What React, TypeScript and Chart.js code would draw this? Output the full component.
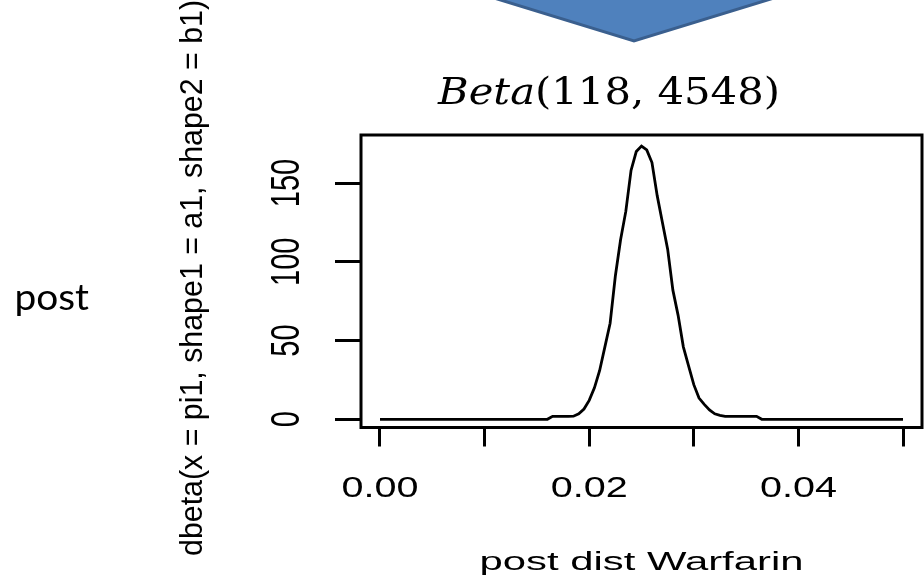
import React, { useEffect, useRef } from 'react';
import { Chart, registerables } from 'chart.js';

Chart.register(...registerables);

// ---- data ----
const pi1 = [
  0, 0.016, 0.0165, 0.017, 0.0175, 0.018, 0.0185, 0.019, 0.0195, 0.02,
  0.0205, 0.021, 0.0215, 0.022, 0.0225, 0.023, 0.0235, 0.024, 0.0245, 0.025,
  0.0255, 0.026, 0.0265, 0.027, 0.0275, 0.028, 0.0285, 0.029, 0.0295, 0.03,
  0.0305, 0.031, 0.0315, 0.032, 0.0325, 0.033, 0.0335, 0.034, 0.0345, 0.035,
  0.0355, 0.036, 0.0365, 0.05,
];
const density = [
  0, 0, 1.9, 1.9, 1.9, 1.9, 2.0, 3.5, 6.5, 12,
  20, 31, 46, 61, 91, 114, 132, 158, 170, 173.5,
  171, 163, 142, 125, 108, 82, 66, 46, 34, 22,
  13.5, 9.5, 6, 3.5, 2.5, 1.9, 1.9, 1.9, 1.9, 1.9,
  1.9, 1.9, 0, 0,
];
const xTickValues = [0, 0.01, 0.02, 0.03, 0.04, 0.05];
const xTickLabels = ['0.00', '', '0.02', '', '0.04', ''];
const yTickValues = [0, 50, 100, 150];
const yTickLabels = ['0', '50', '100', '150'];
const titleItalic = 'Beta';
const titleRest = '(118, 4548)';
const xTitle = 'post dist Warfarin';
const yTitle = 'dbeta(x = pi1, shape1 = a1, shape2 = b1)';
const sideLabel = 'post';

type TextOpts = {
  font: string;
  rot?: number;
  sx?: number;
  sy?: number;
  width?: number;
  align?: CanvasTextAlign;
  baseline?: CanvasTextBaseline;
  color?: string;
};

function drawText(ctx: CanvasRenderingContext2D, text: string, x: number, y: number, o: TextOpts) {
  ctx.save();
  ctx.translate(x, y);
  if (o.rot) ctx.rotate(o.rot);
  ctx.font = o.font;
  let sx = o.sx ?? 1;
  if (o.width) sx = o.width / ctx.measureText(text).width;
  ctx.scale(sx, o.sy ?? 1);
  ctx.textAlign = o.align ?? 'center';
  ctx.textBaseline = o.baseline ?? 'alphabetic';
  ctx.fillStyle = o.color ?? '#000';
  ctx.fillText(text, 0, 0);
  ctx.restore();
}

const decorPlugin = {
  id: 'decor',
  beforeDraw(chart: any) {
    const ctx: CanvasRenderingContext2D = chart.ctx;
    // slide arrow (decoration above the chart)
    ctx.save();
    ctx.beginPath();
    ctx.moveTo(468, -10);
    ctx.lineTo(634, 41);
    ctx.lineTo(800, -10);
    ctx.closePath();
    ctx.fillStyle = '#4F81BD';
    ctx.fill();
    ctx.lineWidth = 3;
    ctx.strokeStyle = '#3A5F8E';
    ctx.lineJoin = 'miter';
    ctx.stroke();
    ctx.restore();
  },
  afterDraw(chart: any) {
    const ctx: CanvasRenderingContext2D = chart.ctx;
    const a = chart.chartArea;
    const xs = chart.scales.x;
    const ys = chart.scales.y;
    // box
    ctx.save();
    ctx.strokeStyle = '#000';
    ctx.lineWidth = 3;
    ctx.strokeRect(a.left, a.top, a.right - a.left, a.bottom - a.top);
    ctx.restore();

    // x tick labels
    xTickValues.forEach((v, i) => {
      const t = xTickLabels[i];
      if (!t) return;
      drawText(ctx, t, xs.getPixelForValue(v), a.bottom + 69.5, {
        font: '29px "Liberation Sans", Arial, sans-serif',
        width: 77,
      });
    });
    // y tick labels (rotated, parallel to axis)
    yTickValues.forEach((v, i) => {
      drawText(ctx, yTickLabels[i], a.left - 62, ys.getPixelForValue(v), {
        font: '29px "Liberation Sans", Arial, sans-serif',
        rot: -Math.PI / 2,
        sy: 1.37,
      });
    });
    // axis titles
    drawText(ctx, xTitle, (xs.getPixelForValue(0) + xs.getPixelForValue(0.05)) / 2, a.bottom + 142.5, {
      font: '26px "Liberation Sans", Arial, sans-serif',
      width: 324,
    });
    drawText(ctx, yTitle, a.left - 159, 278, {
      font: '29px "Liberation Sans", Arial, sans-serif',
      rot: -Math.PI / 2,
      sy: 1.1,
      width: 556,
    });

    // title: Beta(118, 4548)
    ctx.save();
    const fi = 'italic 37px "DejaVu Serif", serif';
    const fn = '37px "DejaVu Serif", serif';
    ctx.font = fi;
    const w1 = ctx.measureText(titleItalic).width;
    ctx.font = fn;
    const w2 = ctx.measureText(titleRest).width;
    const target = 342;
    const sx = target / (w1 + w2);
    ctx.translate(609 - target / 2, 104);
    ctx.scale(sx, 1);
    ctx.fillStyle = '#000';
    ctx.textBaseline = 'alphabetic';
    ctx.textAlign = 'left';
    ctx.font = fi;
    ctx.fillText(titleItalic, 0, 0);
    ctx.font = fn;
    ctx.fillText(titleRest, w1, 0);
    ctx.restore();

    // side label
    drawText(ctx, sideLabel, 89, 310, {
      font: '37px Lato, "Open Sans", sans-serif',
      align: 'right',
      sx: 1.05,
    });
  },
};

export default function App() {
  const ref = useRef<HTMLCanvasElement>(null);
  useEffect(() => {
    if (!ref.current) return;
    const chart = new Chart(ref.current, {
      type: 'scatter',
      data: {
        datasets: [
          {
            data: pi1.map((x, i) => ({ x, y: density[i] })),
            showLine: true,
            borderColor: '#000',
            borderWidth: 2.8,
            pointRadius: 0,
            fill: false,
            tension: 0,
          },
        ],
      },
      options: {
        responsive: false,
        animation: false,
        devicePixelRatio: 1,
        layout: { padding: { left: 361, top: 135, right: 2, bottom: 151.5 } },
        plugins: {
          legend: { display: false },
          tooltip: { enabled: false },
          title: { display: false },
        },
        scales: {
          x: {
            type: 'linear',
            position: 'bottom',
            min: -0.001816,
            max: 0.051816,
            ticks: { stepSize: 0.01, includeBounds: false, display: false },
            grid: {
              display: true,
              drawOnChartArea: false,
              drawTicks: true,
              tickLength: 19,
              tickWidth: 3,
              tickColor: '#000',
            },
            border: { display: false },
            afterFit: (s: any) => {
              s.height = 0;
            },
          },
          y: {
            type: 'linear',
            position: 'left',
            min: -5.2,
            max: 180.5,
            ticks: { stepSize: 50, includeBounds: false, display: false },
            grid: {
              display: true,
              drawOnChartArea: false,
              drawTicks: true,
              tickLength: 26,
              tickWidth: 3,
              tickColor: '#000',
            },
            border: { display: false },
            afterFit: (s: any) => {
              s.width = 0;
            },
          },
        },
      },
      plugins: [decorPlugin],
    });
    return () => chart.destroy();
  }, []);
  return (
    <div style={{ position: 'fixed', left: 0, top: 0, width: 924, height: 579, background: '#fff' }}>
      <canvas ref={ref} width={924} height={579} style={{ width: 924, height: 579, display: 'block' }} />
    </div>
  );
}
